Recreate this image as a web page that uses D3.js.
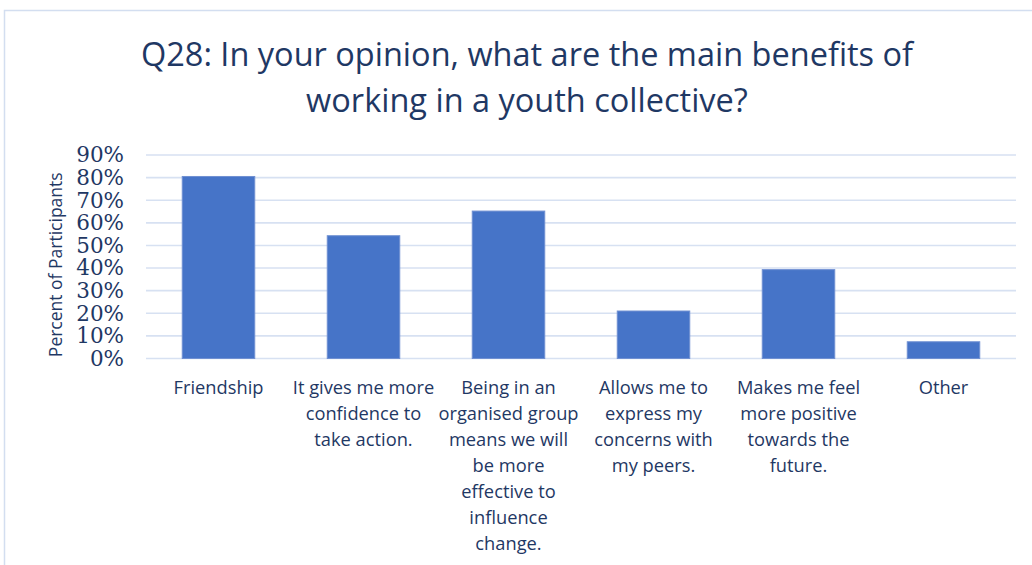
<!DOCTYPE html>
<html>
<head>
<meta charset="utf-8">
<script src="https://cdn.jsdelivr.net/npm/d3@7"></script>
<style>
  body { margin: 0; background: #fff; }
  svg { display: block; }
</style>
</head>
<body>
<div id="chart"></div>
<script>
// chart data
const categories = [
  ["Friendship"],
  ["It gives me more", "confidence to", "take action."],
  ["Being in an", "organised group", "means we will", "be more", "effective to", "influence", "change."],
  ["Allows me to", "express my", "concerns with", "my peers."],
  ["Makes me feel", "more positive", "towards the", "future."],
  ["Other"]
];
const percents = [0.805, 0.543, 0.652, 0.21, 0.393, 0.074];
const yTicks = [0, 0.1, 0.2, 0.3, 0.4, 0.5, 0.6, 0.7, 0.8, 0.9];
const titleLines = ["Q28: In your opinion, what are the main benefits of", "working in a youth collective?"];
const yTitle = "Percent of Participants";

const W = 1032, H = 565;
const margin = { top: 155, right: 16, bottom: 206, left: 146 };
const textColor = "#1F3864";

const svg = d3.select("#chart").append("svg")
  .attr("width", W)
  .attr("height", H);

// frame of the chart area
svg.append("path")
  .attr("d", "M4.5," + H + "V10.5H" + W)
  .attr("fill", "none")
  .attr("stroke", "#D3DEF0")
  .attr("stroke-width", 1.5);

// title
svg.append("text")
  .attr("x", 527)
  .attr("y", 66)
  .attr("text-anchor", "middle")
  .style("font-family", "'Open Sans', sans-serif")
  .style("font-size", "32.5px")
  .style("fill", textColor)
  .selectAll("tspan")
  .data(titleLines)
  .enter()
  .append("tspan")
  .attr("x", 527)
  .attr("dy", (d, i) => i === 0 ? 0 : 46)
  .text(d => d);

const x = d3.scaleBand()
  .domain(d3.range(categories.length))
  .range([margin.left, W - margin.right])
  .paddingInner(0.5)
  .paddingOuter(0.25);

const y = d3.scaleLinear()
  .domain([0, 0.9])
  .range([H - margin.bottom - 0.5, margin.top]);

// gridlines
svg.append("g")
  .selectAll("line")
  .data(yTicks)
  .enter()
  .append("line")
  .attr("x1", margin.left)
  .attr("x2", W - margin.right)
  .attr("y1", d => y(d))
  .attr("y2", d => y(d))
  .attr("stroke", "#D7E1F2")
  .attr("stroke-width", 1.6);

// y axis labels
const yAxis = svg.append("g")
  .attr("transform", "translate(" + (margin.left - 22) + ",0)")
  .call(d3.axisLeft(y).tickValues(yTicks).tickFormat(d3.format(".0%")).tickSize(0).tickPadding(0));
yAxis.select(".domain").remove();
yAxis.selectAll("text")
  .style("font-family", "'DejaVu Serif', serif")
  .style("font-size", "21.5px")
  .style("fill", textColor);

// y axis title
svg.append("text")
  .attr("transform", "translate(62," + ((y(0) + y(0.9)) / 2 + 8) + ") rotate(-90)")
  .attr("text-anchor", "middle")
  .style("font-family", "'Open Sans', sans-serif")
  .style("font-size", "17.5px")
  .style("fill", textColor)
  .text(yTitle);

// bars
svg.append("g")
  .selectAll("rect")
  .data(percents)
  .enter()
  .append("rect")
  .attr("x", (d, i) => x(i))
  .attr("width", x.bandwidth())
  .attr("y", d => y(d))
  .attr("height", d => y(0) - y(d))
  .attr("fill", "#4674C8")
  .attr("stroke", "#7090D2")
  .attr("stroke-width", 1);

// category labels
const labels = svg.append("g")
  .selectAll("text")
  .data(categories)
  .enter()
  .append("text")
  .attr("text-anchor", "middle")
  .attr("y", 394)
  .style("font-family", "'Open Sans', sans-serif")
  .style("font-size", "18.3px")
  .style("fill", textColor);

labels.selectAll("tspan")
  .data((d, i) => d.map(t => ({ t: t, i: i })))
  .enter()
  .append("tspan")
  .attr("x", d => x(d.i) + x.bandwidth() / 2)
  .attr("dy", (d, j) => j === 0 ? 0 : 26)
  .text(d => d.t);
</script>
</body>
</html>
